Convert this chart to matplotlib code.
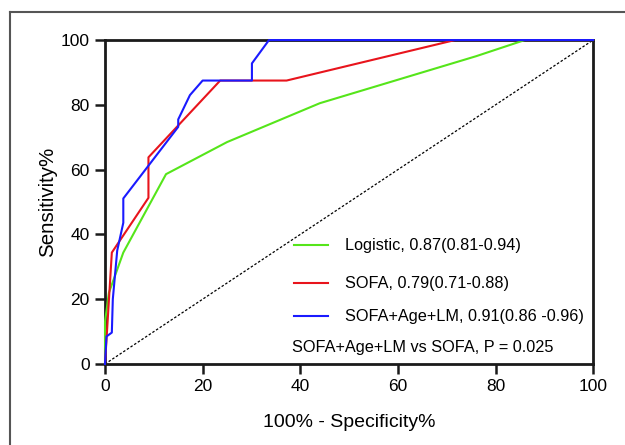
import matplotlib
matplotlib.use("Agg")
import matplotlib.pyplot as plt
from matplotlib.lines import Line2D

plt.rcParams['font.family'] = ['Liberation Sans', 'DejaVu Sans']

# ROC curves (x = 100% - specificity, y = sensitivity)
logistic_x = [0, 0, 0.8, 3.75, 12.5, 25, 44, 76, 86, 100]
logistic_y = [0, 13, 22, 34.4, 58.6, 68.5, 80.5, 95, 100, 100]

sofa_x = [0, 1.4, 8.9, 8.9, 23.6, 37.2, 71.7, 100]
sofa_y = [0, 34.4, 51.3, 63.8, 87.5, 87.5, 100, 100]

combo_x = [0, 0.3, 1.4, 1.6, 2.5, 3.75, 3.75, 15, 15, 17.4, 20, 30.1, 30.1, 33.6, 100]
combo_y = [0, 8.5, 9.7, 20, 35, 43.6, 51.1, 73.2, 75.5, 83, 87.5, 87.5, 92.8, 100, 100]

labels = ["Logistic, 0.87(0.81-0.94)",
          "SOFA, 0.79(0.71-0.88)",
          "SOFA+Age+LM, 0.91(0.86 -0.96)"]
colors = ["#55e51a", "#e8141c", "#1a1aff"]
p_text = "SOFA+Age+LM vs SOFA, P = 0.025"

fig = plt.figure(figsize=(6.25, 4.45), dpi=100)
ax = fig.add_axes([0.168, 0.182, 0.781, 0.728])

ax.plot([0, 100], [0, 100], color="black", lw=0.9, ls=(0, (2, 1.5)), zorder=2)
for xs, ys, c in zip([logistic_x, sofa_x, combo_x], [logistic_y, sofa_y, combo_y], colors):
    ax.plot(xs, ys, color=c, lw=1.5, zorder=4, clip_on=False)

ax.set_xlim(0, 100)
ax.set_ylim(0, 100)
ax.set_xticks([0, 20, 40, 60, 80, 100])
ax.set_yticks([0, 20, 40, 60, 80, 100])
for s in ax.spines.values():
    s.set_linewidth(2)
    s.set_color("#1a1a1a")
    s.set_zorder(3)
ax.tick_params(direction="out", length=7, width=1.8, labelsize=12.5, color="#1a1a1a", pad=4)
ax.set_xlabel("100% - Specificity%", fontsize=14, labelpad=14)
ax.set_ylabel("Sensitivity%", fontsize=14.8, labelpad=3)

# legend drawn by hand to keep the uneven row spacing
rows = [0.367, 0.25, 0.148]
for y, c, lab in zip(rows, colors, labels):
    ax.plot([0.387, 0.457], [y, y], color=c, lw=1.5, transform=ax.transAxes)
    ax.text(0.492, y, lab, transform=ax.transAxes, va="center", fontsize=11.7)
ax.text(0.383, 0.052, p_text, transform=ax.transAxes, va="center", fontsize=11.7)

# outer frame (cropped image border)
fig.add_artist(Line2D([10 / 625, 1], [1 - 12 / 445, 1 - 12 / 445], color="#555555", lw=1.5))
fig.add_artist(Line2D([10 / 625, 10 / 625], [0, 1 - 12 / 445], color="#555555", lw=1.5))

fig.savefig("out.png", dpi=100)
